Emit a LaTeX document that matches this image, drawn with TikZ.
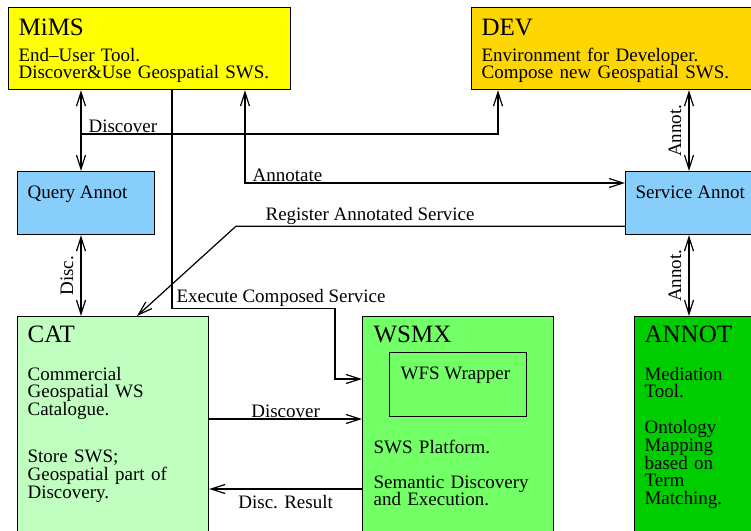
\documentclass[tikz,border=0pt]{standalone}
\usepackage{fontspec}
\setmainfont{Liberation Serif}
\usetikzlibrary{positioning,arrows.meta}
\definecolor{mimsYellow}{HTML}{FFFF00}
\definecolor{devGold}{HTML}{FFD700}
\definecolor{annotBlue}{HTML}{87CEFA}
\definecolor{catGreen}{HTML}{C1FFC1}
\definecolor{wsmxGreen}{HTML}{73FF66}
\definecolor{annotGreen}{HTML}{00CD00}
\begin{document}
\begin{tikzpicture}[x=0.5pt, y=-0.5pt, line width=0.6pt,
    >={Straight Barb[length=7pt,width=4.5pt]},
    box/.style={draw, rectangle, anchor=north west, inner sep=0pt},
    boxtitle/.style={anchor=base west, inner sep=0pt, font=\fontsize{12.5}{15}\selectfont},
    boxtext/.style={anchor=base west, inner sep=0pt, text width=#1, align=left},
    lbl/.style={inner sep=0.5pt},
    vlbl/.style={midway, rotate=90, anchor=south, inner sep=3.5pt}]
  \tikzstyle{every node}=[font=\fontsize{9.5}{8.9}\selectfont]
  \useasboundingbox (0,0) rectangle (751,531);
  \clip (0,0) rectangle (751,531);

  % boxes
  \node[box, fill=mimsYellow, minimum width=141pt, minimum height=41pt] (mims) at (8,7) {};
  \node[box, fill=devGold, minimum width=150pt, minimum height=41pt] (dev) at (471,7) {};
  \node[box, fill=annotBlue, minimum width=68.5pt, minimum height=31.5pt] (qa) at (17,171) {};
  \node[box, fill=annotBlue, minimum width=70pt, minimum height=31.5pt] (sa) at (625,171) {};
  \node[box, fill=catGreen, minimum width=95.5pt, minimum height=120pt] (cat) at (17,316) {};
  \node[box, fill=wsmxGreen, minimum width=95.5pt, minimum height=120pt] (wsmx) at (362,316) {};
  \node[box, minimum width=68.5pt, minimum height=32pt] (wfs) at (389,352) {};
  \node[box, fill=annotGreen, minimum width=70pt, minimum height=120pt] (annot) at (634,316) {};

  % texts
  \node[boxtitle] at ([shift={(10,28)}]mims.north west) {MiMS};
  \node[boxtext=135pt] at ([shift={(10,54)}]mims.north west) {End--User Tool.\\Discover\&Use Geospatial SWS.};
  \node[boxtitle] at ([shift={(10,28)}]dev.north west) {DEV};
  \node[boxtext=140pt] at ([shift={(10,54)}]dev.north west) {Environment for Developer.\\Compose new Geospatial SWS.};
  \node[anchor=base west, inner sep=0pt] at ([shift={(10,27)}]qa.north west) {Query Annot};
  \node[anchor=base west, inner sep=0pt] at ([shift={(10,27)}]sa.north west) {Service Annot};
  \node[boxtitle] at ([shift={(10,26)}]cat.north west) {CAT};
  \node[boxtext=88pt] at ([shift={(10,64)}]cat.north west) {Commercial\\Geospatial WS\\Catalogue.\\[14.5pt]Store SWS;\\Geospatial part of\\Discovery.};
  \node[boxtitle] at ([shift={(11,26)}]wsmx.north west) {WSMX};
  \node[anchor=base west, inner sep=0pt] at ([shift={(11,27)}]wfs.north west) {WFS Wrapper};
  \node[boxtext=90pt] at ([shift={(11,137)}]wsmx.north west) {SWS Platform.\\[8.6pt]Semantic Discovery\\and Execution.};
  \node[boxtitle] at ([shift={(10,26)}]annot.north west) {ANNOT};
  \node[boxtext=60pt] at ([shift={(10,64)}]annot.north west) {Mediation\\Tool.\\[8.9pt]Ontology\\Mapping\\based on\\Term\\Matching.};

  % connectors
  \coordinate (dsc) at (81,134);
  \coordinate (ann) at ([xshift=118.5pt]mims.south west);
  \coordinate (exe) at ([xshift=82pt]mims.south west);
  \coordinate (ax) at ([xshift=32pt]sa.north west);
  \coordinate (cd) at ([yshift=-51.5pt]cat.north east);
  \coordinate (cr) at ([yshift=-86.5pt]cat.north east);

  \path[<->] (mims.south -| dsc) edge (qa.north -| dsc)
    (qa.south -| dsc) edge node[vlbl] {Disc.} (cat.north -| dsc)
    (dev.south -| ax) edge node[vlbl] {Annot.} (ax)
    (sa.south -| ax) edge node[vlbl] {Annot.} (annot.north -| ax);

  \draw[->] (dsc) -| node[lbl, pos=0, anchor=south west, xshift=3pt] {Discover} ([xshift=13.5pt]dev.south west);
  \draw[<->] (ann) |- node[lbl, pos=0.5, anchor=south west, xshift=3pt] {Annotate} ([yshift=-6pt]sa.north west);
  \draw[->] ([yshift=4.5pt]sa.south west) -- ++(-389,0)
    node[lbl, anchor=south west, xshift=14pt] {Register Annotated Service}
    -- ([xshift=60pt]cat.north west);
  \draw[->] (exe) -- ++(0,218) node[lbl, anchor=south west, xshift=1.5pt] {Execute Composed Service}
    -- ++(163,0) |- ([yshift=-31.5pt]wsmx.north west);

  \path[->] (cd) edge node[lbl, above] {Discover} (cd -| wsmx.west)
    (cr -| wsmx.west) edge node[lbl, below, yshift=-2.5pt] {Disc. Result} (cr);
\end{tikzpicture}
\end{document}
